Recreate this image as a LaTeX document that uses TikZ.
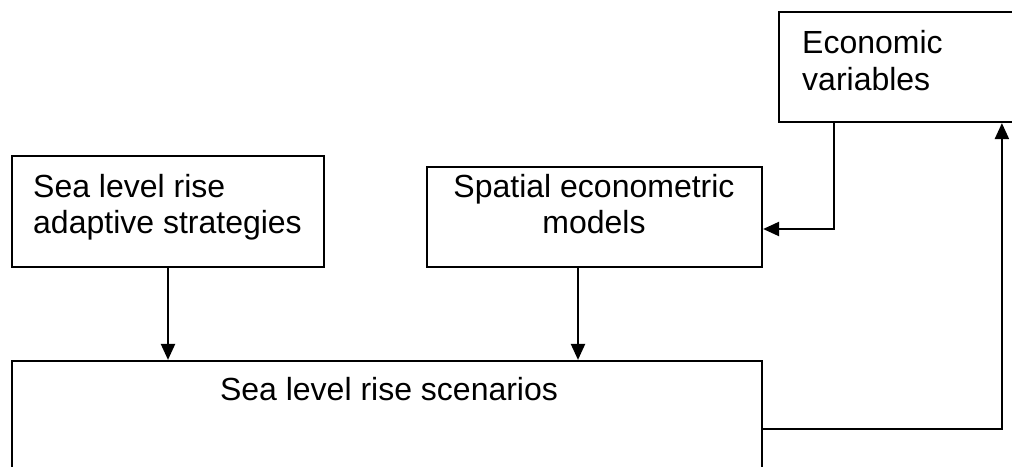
\documentclass[tikz,border=0pt]{standalone}
\usepackage{fontspec}
\setmainfont{Liberation Sans}
\usetikzlibrary{arrows.meta,calc}
\begin{document}
\begin{tikzpicture}[x=1pt,y=-1pt,
  box/.style={draw=black,line width=2.2pt,rectangle,inner sep=0pt,fill=none},
  lbl/.style={inner sep=0pt,font=\fontsize{32}{36}\selectfont,text=black},
  arr/.style={line width=2.2pt,-{Triangle[length=16pt,width=14pt]}},
  ln/.style={line width=2.2pt}]
\useasboundingbox (0,0) rectangle (1012,466);
\clip (0,0) rectangle (1012,466);
% boxes
\node[box,minimum width=251pt,minimum height=110pt] (eco) at (904.5,67) {};
\node[box,minimum width=312pt,minimum height=111pt] (adapt) at (168,211.5) {};
\node[box,minimum width=335pt,minimum height=100pt] (spat) at (594.5,217) {};
\node[box,minimum width=750pt,minimum height=119pt] (scen) at (387,420.5) {};
% texts
\node[lbl,anchor=base west] (eco1) at (802,53) {Economic};
\node[lbl,anchor=base west] (eco2) at (802,90) {variables};
\node[lbl,anchor=base west] (ad1) at (33,197) {Sea level rise};
\node[lbl,anchor=base west] (ad2) at (33,233) {adaptive strategies};
\node[lbl,anchor=base] (sp1) at (594,197) {Spatial econometric};
\node[lbl,anchor=base] (sp2) at (594,233) {models};
\node[lbl,anchor=base] (sc1) at (389,400) {Sea level rise scenarios};
% connectors
\coordinate (ecoout) at ($(eco.south west)+(56,0)$);
\coordinate (spin) at ($(spat.east)+(0,12)$);
\draw[arr] (ecoout) |- (spin);
\draw[arr] (adapt.south) -- (adapt.south |- scen.north);
\coordinate (spout) at ($(spat.south)+(-16.5,0)$);
\draw[arr] (spout) -- (spout |- scen.north);
\coordinate (scout) at ($(scen.east)+(0,8.5)$);
\coordinate (ecoin) at ($(eco.south west)+(224,0)$);
\draw[arr] (scout) -| (ecoin);
\end{tikzpicture}
\end{document}
